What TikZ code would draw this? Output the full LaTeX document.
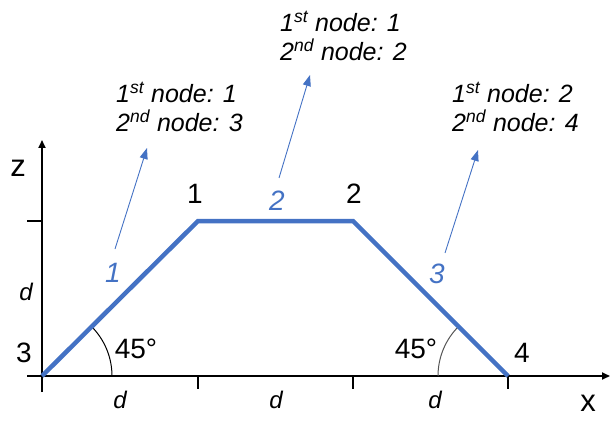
\documentclass[tikz,border=0pt]{standalone}
\usepackage{fontspec}
\setmainfont{Liberation Sans}
\usetikzlibrary{arrows.meta}
\definecolor{bl}{HTML}{4472C4}
\definecolor{arcgray}{HTML}{555555}
\begin{document}
\begin{tikzpicture}[x=1pt,y=-1pt,
  num/.style={inner sep=0pt, font=\fontsize{28}{32}\selectfont},
  bnum/.style={num, text=bl, font=\fontsize{28}{32}\selectfont\itshape},
  dlbl/.style={inner sep=0pt, font=\fontsize{24}{28}\selectfont\itshape},
  axlbl/.style={inner sep=0pt, font=\fontsize{31}{34}\selectfont},
  info/.style={inner sep=0pt, anchor=west, align=left, font=\fontsize{25}{29}\selectfont\itshape},
  axis/.style={line width=1.8pt, -{Triangle[length=8pt,width=7pt]}},
  tick/.style={line width=1.3pt},
  member/.style={line width=4.5pt, draw=bl, line join=miter},
  ptr/.style={draw=bl, line width=0.9pt, -{Triangle[length=11pt,width=8pt]}},
  angarc/.style={line width=1pt}
]
\useasboundingbox (0,0) rectangle (610,422);
% coordinates
\coordinate (O) at (42,376);
\coordinate (xend) at (610,376);
\coordinate (xstart) at (27,376);
\coordinate (zbot) at (42,392);
\coordinate (ztop) at (42,140);
\coordinate (n3) at (42,376);
\coordinate (n1) at (198,221);
\coordinate (n2) at (353,221);
\coordinate (n4) at (508,376);
\coordinate (zt1) at (27,221);
\coordinate (zt2) at (42,221);
% axes
\draw[axis] (xstart) -- (xend);
\draw[axis] (zbot) -- (ztop);
\draw[tick] (zt1) -- (zt2);
\foreach \x/\n in {198/a,353/b,508/c}{
  \coordinate (t\n1) at (\x,376);
  \coordinate (t\n2) at (\x,389);
  \draw[tick] (t\n1) -- (t\n2);
}
% angle arcs
\draw[angarc] (112,376) arc[start angle=0, end angle=-45, radius=70];
\draw[angarc, draw=arcgray] (438,376) arc[start angle=180, end angle=225, radius=70];
% members
\draw[member] (n3) -- (n1) -- (n2) -- (n4);
% labels
\node[num] (l1) at (195,194) {1};
\node[num] (l2) at (354,194) {2};
\node[num] (l3) at (24,353) {3};
\node[num] (l4) at (522,353) {4};
\node[bnum] (m1) at (113,273) {1};
\node[bnum] (m2) at (277,201) {2};
\node[bnum] (m3) at (437,274) {3};
\node[num] (a1) at (136,349) {45°};
\node[num] (a2) at (416,349) {45°};
\node[dlbl] (dz) at (26,292) {d};
\node[dlbl] (d1) at (120,400) {d};
\node[dlbl] (d2) at (276,400) {d};
\node[dlbl] (d3) at (435,400) {d};
\node[axlbl] (xl) at (588,403) {x};
\node[axlbl] (zl) at (18,168) {z};
% info blocks
\node[info] (i1) at (116,107) {1\textsuperscript{st} node: 1\\2\textsuperscript{nd} node: 3};
\node[info] (i2) at (280,36) {1\textsuperscript{st} node: 1\\2\textsuperscript{nd} node: 2};
\node[info] (i3) at (452,107) {1\textsuperscript{st} node: 2\\2\textsuperscript{nd} node: 4};
% pointers
\coordinate (p1s) at (115,249);
\coordinate (p1e) at (147,148);
\coordinate (p2s) at (279,178);
\coordinate (p2e) at (310,75);
\coordinate (p3s) at (445,253);
\coordinate (p3e) at (478,150);
\draw[ptr] (p1s) -- (p1e);
\draw[ptr] (p2s) -- (p2e);
\draw[ptr] (p3s) -- (p3e);
\end{tikzpicture}
\end{document}
